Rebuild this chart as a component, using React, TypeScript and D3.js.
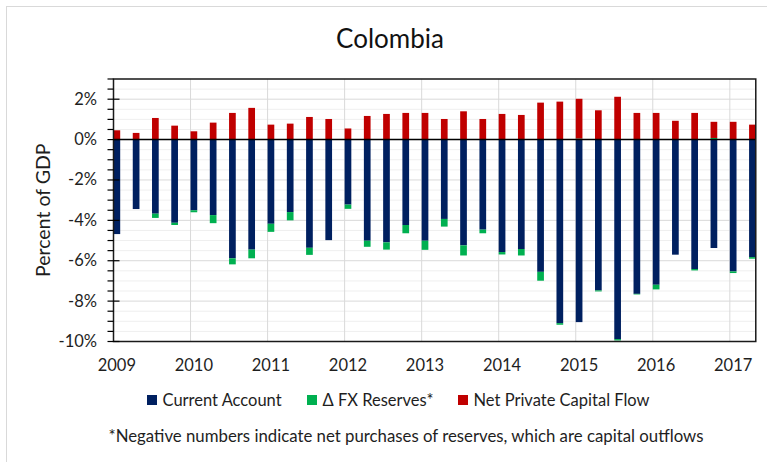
import React from "react";
import * as d3 from "d3";

const years = ["2009", "2010", "2011", "2012", "2013", "2014", "2015", "2016", "2017"];
const quarters: string[] = [];
for (const y of years) for (const q of ["Q1", "Q2", "Q3", "Q4"]) quarters.push(`${y}${q}`);
const quarterLabels = quarters.slice(0, 34);

const currentAccount = [-4.68, -3.44, -3.67, -4.12, -3.5, -3.74, -5.88, -5.45, -4.17, -3.59, -5.36, -4.98, -3.22, -5.01, -5.09, -4.23, -5.01, -3.93, -5.24, -4.46, -5.57, -5.42, -6.55, -9.09, -9.04, -7.47, -9.88, -7.64, -7.19, -5.7, -6.41, -5.37, -6.53, -5.82];
const fxReserves = [0, 0, -0.21, -0.11, -0.1, -0.4, -0.3, -0.43, -0.4, -0.41, -0.35, 0, -0.21, -0.3, -0.36, -0.41, -0.45, -0.38, -0.5, -0.18, -0.12, -0.32, -0.44, -0.08, 0.05, -0.05, -0.07, -0.03, -0.23, 0, -0.07, 0.08, -0.08, -0.08];
const netPrivateCapital = [0.46, 0.33, 1.07, 0.69, 0.41, 0.84, 1.32, 1.57, 0.74, 0.79, 1.12, 1.02, 0.55, 1.17, 1.27, 1.32, 1.32, 1.02, 1.4, 1.02, 1.27, 1.22, 1.83, 1.88, 1.97, 1.45, 2.12, 1.32, 1.32, 0.93, 1.32, 0.8, 0.88, 0.74];

const seriesKeys = ["currentAccount", "fxReserves", "netPrivateCapital"];
const seriesNames = ["Current Account", "\u0394 FX Reserves*", "Net Private Capital Flow"];
const seriesColors = ["#002060", "#00B050", "#C00000"];
const yTicks = [-10, -8, -6, -4, -2, 0, 2];

const FONT = "Lato, 'Open Sans', sans-serif";

export default function App() {
  const W = 767, H = 462;
  const left = 113.5, top = 79, bottom = 341.5;
  const step = 19.26;
  const barW = 6.7;
  const n = quarterLabels.length;

  const x = d3.scaleLinear().domain([0, n - 1]).range([left, left + (n - 1) * step]);
  const right = x(n - 1) + barW;
  const y = d3.scaleLinear().domain([-10, 3]).range([bottom, top]);

  const rows = quarterLabels.map((q, i) => ({
    q,
    currentAccount: currentAccount[i],
    fxReserves: fxReserves[i],
    netPrivateCapital: netPrivateCapital[i],
  }));
  const stacked = d3.stack<any>().keys(seriesKeys).offset(d3.stackOffsetDiverging)(rows);

  const minorTicks = d3.range(-10, 3.01, 0.5);
  const legendX = [147, 307, 458];

  return (
    <div style={{ position: "absolute", left: 0, top: 0 }}>
      <svg width={W} height={H} style={{ display: "block", background: "#fff" }}>
        <rect x={6.5} y={6.5} width={W + 20} height={H + 20} fill="#fff" stroke="#d9d9d9" />
        {minorTicks.map((v) => (
          <line key={"mg" + v} x1={left} x2={right} y1={y(v)} y2={y(v)} stroke={v % 2 === 0 ? "#d9d9d9" : "#efefef"} strokeWidth={1} />
        ))}
        {years.slice(1).map((yr, i) => (
          <line key={"vg" + yr} x1={x((i + 1) * 4)} x2={x((i + 1) * 4)} y1={top} y2={bottom} stroke="#d9d9d9" strokeWidth={1} />
        ))}
        {stacked.map((s, si) => (
          <g key={s.key} fill={seriesColors[si]}>
            {s.map((d, i) => {
              const y0 = y(d[0]), y1 = y(d[1]);
              const h = Math.abs(y0 - y1);
              if (h < 0.01) return null;
              return <rect key={i} x={x(i)} y={Math.min(y0, y1)} width={barW} height={h} />;
            })}
          </g>
        ))}
        <line x1={left} x2={right} y1={y(0)} y2={y(0)} stroke="#000" strokeWidth={1.5} />
        <rect x={left} y={top} width={right - left} height={bottom - top} fill="none" stroke="#1a1a1a" strokeWidth={1.5} />
        {minorTicks.map((v) => (
          <line key={"t" + v} x1={left - 6} x2={v % 2 === 0 ? left + 6 : left} y1={y(v)} y2={y(v)} stroke="#000" strokeWidth={1.2} />
        ))}
        {yTicks.map((v) => (
          <text key={"yl" + v} x={97} y={y(v) + 5.5} textAnchor="end" fontFamily={FONT} fontSize={16.5} fill="#1e1e1e">
            {`${v}%`}
          </text>
        ))}
        {years.map((yr, i) => (
          <text key={"xl" + yr} x={x(i * 4) + barW / 2} y={370.5} textAnchor="middle" fontFamily={FONT} fontSize={16.5} fill="#1e1e1e">
            {yr}
          </text>
        ))}
        <text x={390} y={48} textAnchor="middle" fontFamily={FONT} fontSize={26} fill="#111">
          Colombia
        </text>
        <text transform={`translate(50, ${(top + bottom) / 2}) rotate(-90)`} textAnchor="middle" fontFamily={FONT} fontSize={19.5} fill="#1e1e1e">
          Percent of GDP
        </text>
        {seriesNames.map((name, i) => (
          <g key={"lg" + i}>
            <rect x={legendX[i]} y={395} width={10} height={10} fill={seriesColors[i]} />
            <text x={legendX[i] + 15.5} y={405.5} fontFamily={FONT} fontSize={16.5} fill="#1e1e1e">
              {name}
            </text>
          </g>
        ))}
        <text x={406} y={441.5} textAnchor="middle" fontFamily={FONT} fontSize={16.8} fill="#1e1e1e">
          *Negative numbers indicate net purchases of reserves, which are capital outflows
        </text>
      </svg>
    </div>
  );
}
